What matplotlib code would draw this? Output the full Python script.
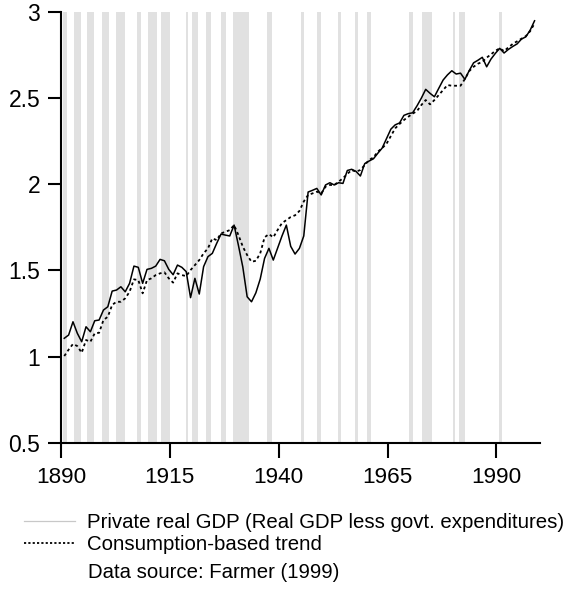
import matplotlib
matplotlib.use("Agg")
import matplotlib.pyplot as plt
from matplotlib.lines import Line2D
import numpy as np

plt.rcParams['font.family'] = ['Liberation Sans', 'DejaVu Sans']

years = np.arange(1890, 1999)

private_gdp = [
    1.106, 1.125, 1.202, 1.135, 1.086, 1.173, 1.144, 1.208, 1.212, 1.270,
    1.289, 1.380, 1.386, 1.405, 1.376, 1.425, 1.525, 1.518, 1.425, 1.506,
    1.512, 1.525, 1.564, 1.556, 1.506, 1.475, 1.531, 1.518, 1.493, 1.342,
    1.454, 1.363, 1.522, 1.580, 1.599, 1.657, 1.711, 1.705, 1.700, 1.763,
    1.645, 1.520, 1.347, 1.318, 1.370, 1.450, 1.570, 1.628, 1.560, 1.630,
    1.700, 1.763, 1.640, 1.595, 1.628, 1.700, 1.955, 1.965, 1.976, 1.938,
    1.996, 2.009, 1.996, 2.009, 2.005, 2.080, 2.087, 2.075, 2.048, 2.120,
    2.135, 2.148, 2.180, 2.210, 2.265, 2.320, 2.345, 2.356, 2.400, 2.410,
    2.415, 2.455, 2.500, 2.551, 2.528, 2.508, 2.557, 2.605, 2.635, 2.659,
    2.640, 2.645, 2.609, 2.660, 2.705, 2.720, 2.737, 2.682, 2.727, 2.760,
    2.789, 2.762, 2.783, 2.800, 2.815, 2.843, 2.856, 2.895, 2.949,
]

consumption_trend = [
    1.003, 1.040, 1.073, 1.061, 1.022, 1.096, 1.086, 1.135, 1.138, 1.212,
    1.231, 1.300, 1.318, 1.318, 1.338, 1.376, 1.448, 1.444, 1.367, 1.444,
    1.454, 1.473, 1.483, 1.489, 1.454, 1.429, 1.483, 1.473, 1.467, 1.502,
    1.531, 1.560, 1.599, 1.628, 1.686, 1.676, 1.715, 1.724, 1.734, 1.763,
    1.705, 1.638, 1.589, 1.550, 1.556, 1.599, 1.692, 1.711, 1.692, 1.735,
    1.775, 1.792, 1.810, 1.820, 1.845, 1.900, 1.938, 1.947, 1.957, 1.947,
    1.986, 1.996, 1.996, 2.015, 2.035, 2.060, 2.083, 2.073, 2.083, 2.112,
    2.141, 2.156, 2.189, 2.210, 2.235, 2.280, 2.325, 2.350, 2.373, 2.392,
    2.410, 2.425, 2.460, 2.489, 2.464, 2.489, 2.518, 2.547, 2.576, 2.572,
    2.572, 2.572, 2.611, 2.657, 2.682, 2.700, 2.710, 2.735, 2.754, 2.775,
    2.789, 2.773, 2.795, 2.815, 2.830, 2.845, 2.860, 2.889, 2.934,
]

# NBER recession periods (start, end) in decimal years
recession_start = [1890.55, 1893.05, 1895.95, 1899.45, 1902.7, 1907.4, 1910.05,
                   1913.05, 1918.6, 1920.05, 1923.4, 1926.8, 1929.6, 1937.4,
                   1945.1, 1948.85, 1953.5, 1957.6, 1960.25, 1969.9, 1973.0,
                   1980.0, 1981.5, 1990.5]
recession_end = [1891.4, 1894.5, 1897.5, 1900.95, 1904.6, 1908.45, 1912.05,
                 1914.95, 1919.2, 1921.55, 1924.55, 1927.9, 1933.2, 1938.45,
                 1945.8, 1949.8, 1954.4, 1958.3, 1961.15, 1970.9, 1975.25,
                 1980.5, 1982.85, 1991.2]

x_ticks = [1890, 1915, 1940, 1965, 1990]
y_ticks = [0.5, 1, 1.5, 2, 2.5, 3]
y_ticklabels = ['0.5', '1', '1.5', '2', '2.5', '3']

W, H = 567, 589
fig = plt.figure(figsize=(W / 100, H / 100), dpi=100)
ax = fig.add_axes([61 / W, 1 - 442.7 / H, (540 - 61) / W, (442.7 - 12) / H])

for s, e in zip(recession_start, recession_end):
    ax.axvspan(s, e, color='#e1e1e1', lw=0, zorder=0)

xpos = years + 0.75
ax.plot(xpos, private_gdp, color='black', lw=1.1, zorder=3)
ax.plot(xpos, consumption_trend, color='black', lw=1.3,
        linestyle=(0, (1.6, 1.6)), zorder=3)

ax.set_xlim(1890, 2000)
ax.set_ylim(0.5, 3)
ax.set_xticks(x_ticks)
ax.set_xticklabels([str(t) for t in x_ticks])
ax.set_yticks(y_ticks)
ax.set_yticklabels(y_ticklabels)

for side in ['top', 'right']:
    ax.spines[side].set_visible(False)
for side in ['left', 'bottom']:
    ax.spines[side].set_linewidth(1.5)
    ax.spines[side].set_color('black')

ax.tick_params(axis='x', direction='out', length=10.5, width=1.5,
               labelsize=16.2, pad=7.0, colors='black')
ax.tick_params(axis='y', direction='out', length=9.5, width=1.5,
               labelsize=16.5, pad=5.5, colors='black')

handles = [Line2D([], [], color='#c8c8c8', lw=0.9),
           Line2D([], [], color='black', lw=1.3, linestyle=(0, (1.2, 1.2)))]
labels = ['Private real GDP (Real GDP less govt. expenditures)',
          'Consumption-based trend']
fig.legend(handles, labels, loc='upper left',
           bbox_to_anchor=(23.5 / W, 1 - 513 / H),
           frameon=False, fontsize=14.7, handlelength=2.5,
           handletextpad=0.6, labelspacing=0.15, borderpad=0,
           borderaxespad=0)

fig.text(87.7 / W, 1 - 572 / H, 'Data source: Farmer (1999)',
         fontsize=14.7, ha='left', va='center')

fig.savefig('out.png', dpi=100)
